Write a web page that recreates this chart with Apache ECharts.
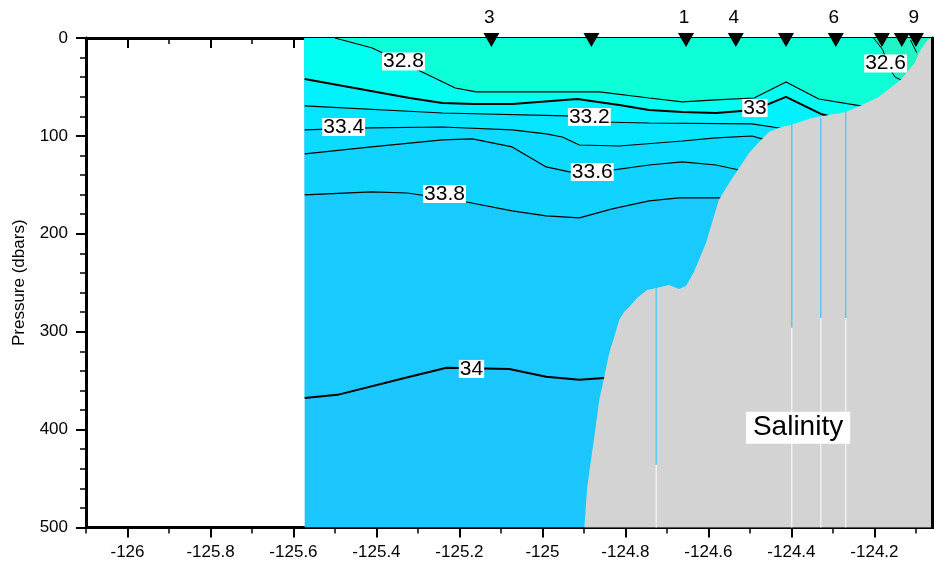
<!DOCTYPE html>
<html>
<head>
<meta charset="utf-8">
<style>
  html, body { margin: 0; padding: 0; background: #fff; }
  #chart-container { width: 934px; height: 565px; }
</style>
</head>
<body>
<div id="chart-container"></div>
<script src="https://cdn.jsdelivr.net/npm/echarts@6/dist/echarts.min.js"></script>
<script>
// axis ranges and ticks
const xMin = -126.1, xMax = -124.06;
const xMajor = [-126, -125.8, -125.6, -125.4, -125.2, -125, -124.8, -124.6, -124.4, -124.2];
const xMinor = [-126.1, -125.9, -125.7, -125.5, -125.3, -125.1, -124.9, -124.7, -124.5, -124.3, -124.1];

// section extent (longitude where data starts / ends)
const waterEdge = [[-125.573, 0], [-124.06, 0]];

// contour lines, [lon, pressure]; the last point of each runs under the shelf
const c34 = [[-125.573, 367.6], [-125.494, 364.5], [-125.320, 346.1], [-125.231, 336.9], [-125.080, 338.0],
  [-124.991, 346.1], [-124.911, 349.2], [-124.851, 347.2], [-124.06, 347.2]];
const c338 = [[-125.573, 160.3], [-125.412, 157.2], [-125.325, 158.3], [-125.183, 167.5], [-125.073, 176.6],
  [-124.991, 181.7], [-124.911, 183.8], [-124.832, 174.6], [-124.743, 166.4], [-124.671, 163.4],
  [-124.579, 163.4], [-124.06, 163.4]];
const c336 = [[-125.573, 118.4], [-125.412, 111.3], [-125.241, 104.1], [-125.169, 103.1], [-125.073, 111.3],
  [-124.991, 131.7], [-124.935, 136.8], [-124.863, 136.8], [-124.743, 129.7], [-124.663, 126.6],
  [-124.582, 129.7], [-124.526, 134.8], [-124.06, 134.8]];
const c334 = [[-125.573, 93.9], [-125.417, 91.9], [-125.241, 90.9], [-125.073, 93.9], [-124.991, 98.0],
  [-124.952, 101.1], [-124.911, 109.3], [-124.815, 110.3], [-124.663, 105.2], [-124.582, 102.1],
  [-124.495, 100.1], [-124.471, 103.1], [-124.06, 103.1]];
const c332 = [[-125.573, 69.4], [-125.241, 76.6], [-124.942, 79.6], [-124.863, 85.8], [-124.743, 86.8],
  [-124.495, 87.8], [-124.430, 91.9], [-124.06, 91.9]];
const c330 = [[-125.573, 41.9], [-125.320, 61.3], [-125.241, 66.4], [-125.164, 67.4], [-125.073, 67.4],
  [-124.916, 62.3], [-124.815, 68.4], [-124.743, 73.5], [-124.663, 75.6], [-124.582, 76.6],
  [-124.490, 73.5], [-124.413, 60.2], [-124.329, 77.6], [-124.310, 79.6], [-124.06, 79.6]];
const c328 = [[-125.50, 0], [-125.41, 10.2], [-125.30, 32.7], [-125.21, 51.1], [-125.16, 55.1],
  [-124.863, 55.1], [-124.743, 61.3], [-124.663, 65.3], [-124.582, 63.3], [-124.490, 61.3],
  [-124.413, 44.9], [-124.334, 62.3], [-124.233, 69.4], [-124.06, 69.4]];
const c326 = [[-124.202, 0], [-124.180, 12], [-124.165, 30], [-124.150, 40], [-124.130, 44], [-124.06, 44]];
const c326b = [[-124.113, 2], [-124.098, 15]];

// bottom profile
const bathy = [[-124.899, 500], [-124.892, 458.4], [-124.882, 427.8], [-124.875, 407.4], [-124.863, 369.6],
  [-124.851, 346.1], [-124.839, 321.6], [-124.827, 305.3], [-124.815, 287.9], [-124.803, 279.8],
  [-124.791, 274.7], [-124.772, 265.5], [-124.748, 257.3], [-124.726, 255.3], [-124.695, 252.2],
  [-124.671, 256.3], [-124.654, 253.2], [-124.635, 238.9], [-124.606, 209.3], [-124.575, 165.4],
  [-124.550, 148.1], [-124.526, 132.7], [-124.502, 117.4], [-124.478, 106.2], [-124.454, 96.0],
  [-124.425, 90.9], [-124.401, 88.8], [-124.351, 81.7], [-124.310, 78.6], [-124.269, 75.6],
  [-124.230, 68.4], [-124.190, 60.3], [-124.137, 43.0], [-124.103, 25.5], [-124.089, 12.3],
  [-124.072, 2], [-124.06, 0]];

// gaps between profile columns
const seamX = [-124.726, -124.399, -124.329, -124.269];
const seamTop = [255.3, 88.8, 81.7, 75.6];
const seamSplit = [436, 296, 286, 286];

// stations
const stationLon = [-125.123, -124.882, -124.654, -124.534, -124.413, -124.293, -124.182, -124.134, -124.100];
const stationName = ['3', '', '1', '4', '', '6', '', '', '9'];

// contour labels
const labelText = ['32.8', '33.4', '33.2', '33.6', '33.8', '34', '33', '32.6'];
const labelLon = [-125.335, -125.479, -124.887, -124.880, -125.236, -125.171, -124.488, -124.173];
const labelP = [24, 90.9, 80.7, 136.8, 159.3, 338, 71.5, 26];

const FONT = 'Liberation Sans';

const contours = [
  { data: c34, fill: '#19caff', width: 2 },
  { data: c338, fill: '#11d3ff', width: 1.2 },
  { data: c336, fill: '#0adbff', width: 1.2 },
  { data: c334, fill: '#05e5ff', width: 1.2 },
  { data: c332, fill: '#00f1ff', width: 1.2 },
  { data: c330, fill: '#00fff0', width: 2 },
  { data: c328, fill: '#0cffd6', width: 1.2 },
  { data: c326, fill: '#1ff5c4', width: 1 },
];

const initChart = () => {
  const dom = document.getElementById('chart-container');
  return echarts.init(dom, null, { renderer: 'canvas' });
};

const buildSeries = () => {
  const series = [];
  series.push({
    type: 'line', data: waterEdge, symbol: 'none', z: 1,
    lineStyle: { width: 0 },
    areaStyle: { color: '#1cc6ff', opacity: 1, origin: 'end' },
  });
  contours.forEach((c) => {
    series.push({
      type: 'line', data: c.data, symbol: 'none', z: 2,
      lineStyle: { color: '#000', width: c.width },
      areaStyle: { color: c.fill, opacity: 1, origin: 'start' },
    });
  });
  series.push({
    type: 'line', data: c326b, symbol: 'none', z: 2,
    lineStyle: { color: '#000', width: 1 },
  });
  series.push({
    type: 'line', data: bathy, symbol: 'none', z: 3,
    lineStyle: { width: 0 },
    areaStyle: { color: '#d3d3d3', opacity: 1, origin: 'end' },
  });
  seamX.forEach((x, i) => {
    series.push({
      type: 'line', data: [[x, seamTop[i]], [x, seamSplit[i]]], symbol: 'none', z: 4,
      lineStyle: { color: '#1cc6ff', width: 1 },
    });
    series.push({
      type: 'line', data: [[x, seamSplit[i]], [x, 500]], symbol: 'none', z: 4,
      lineStyle: { color: '#fff', width: 1 },
    });
  });
  series.push({
    type: 'scatter', symbolSize: 0, z: 6, clip: false,
    itemStyle: { opacity: 1 },
    data: labelText.map((t, i) => ({ name: t, value: [labelLon[i], labelP[i]] })),
    label: {
      show: true, position: 'inside', formatter: (p) => p.name, opacity: 1,
      color: '#000', fontSize: 21, fontFamily: FONT, lineHeight: 17,
      backgroundColor: '#fff', padding: [1, 1, 0, 1],
    },
  });
  series.push({
    type: 'scatter', symbolSize: 0, z: 6, clip: false,
    itemStyle: { opacity: 1 },
    data: [{ name: 'Salinity', value: [-124.384, 398] }],
    label: {
      show: true, position: 'inside', formatter: (p) => p.name, opacity: 1,
      color: '#000', fontSize: 28, fontFamily: FONT, lineHeight: 30,
      backgroundColor: '#fff', padding: [1, 7, 1, 7],
    },
  });
  series.push({
    type: 'scatter', z: 7, clip: false,
    symbol: 'triangle', symbolRotate: 180, symbolSize: [16, 14], symbolOffset: [0, 2],
    itemStyle: { color: '#000', opacity: 1 },
    data: stationLon.map((x, i) => ({ name: stationName[i], value: [x, 0] })),
    label: {
      show: true, position: 'top', distance: 6, offset: [-2, 0], opacity: 1,
      formatter: (p) => p.name, color: '#000', fontSize: 19, fontFamily: FONT,
    },
  });
  return series;
};

// one x axis; grid 0 carries the major ticks, grid 1 (same box) the minor ones.
// the top axis draws its ticks toward the plot unless flipped with inside
const xAxisOf = (gridIndex, position, ticks, len, width, labels) => ({
  type: 'value', gridIndex, position, min: xMin, max: xMax,
  axisLine: { show: gridIndex === 0, onZero: false, lineStyle: { color: '#000', width: 3 } },
  axisTick: {
    show: true, inside: position === 'top', customValues: ticks, length: len,
    lineStyle: { color: '#000', width },
  },
  axisLabel: labels
    ? { show: true, customValues: xMajor, margin: 16, color: '#000', fontSize: 17, fontFamily: FONT }
    : { show: false },
  splitLine: { show: false },
});

const renderChart = (chart) => {
  const box = { left: 86, right: 1.5, top: 38, bottom: 37.5 };
  chart.setOption({
    animation: false,
    backgroundColor: '#fff',
    grid: [box, Object.assign({}, box)],
    xAxis: [
      xAxisOf(0, 'bottom', xMajor, 10, 2, true),
      xAxisOf(0, 'top', xMajor, 10, 2, false),
      xAxisOf(1, 'bottom', xMinor, 6, 1.5, false),
      xAxisOf(1, 'top', xMinor, 6, 1.5, false),
    ],
    yAxis: [
      {
        type: 'value', gridIndex: 0, position: 'left', inverse: true, min: 0, max: 500, interval: 100,
        name: 'Pressure (dbars)', nameLocation: 'middle', nameGap: 58,
        nameTextStyle: { color: '#000', fontSize: 17, fontFamily: FONT },
        axisLine: { show: true, onZero: false, lineStyle: { color: '#000', width: 3 } },
        axisTick: { show: true, length: 10, lineStyle: { color: '#000', width: 2 } },
        minorTick: { show: true, splitNumber: 5, length: 6, lineStyle: { color: '#000', width: 1.5 } },
        axisLabel: { margin: 18, color: '#000', fontSize: 17, fontFamily: FONT },
        splitLine: { show: false },
        minorSplitLine: { show: false },
      },
      {
        type: 'value', gridIndex: 0, position: 'right', inverse: true, min: 0, max: 500, interval: 100,
        z: 8,
        axisLine: { show: true, onZero: false, lineStyle: { color: '#000', width: 3 } },
        axisTick: { show: true, inside: false, length: 6, lineStyle: { color: '#000', width: 1.5 } },
        minorTick: { show: true, splitNumber: 5, length: 6, lineStyle: { color: '#000', width: 1.5 } },
        axisLabel: { show: false },
        splitLine: { show: false },
      },
      {
        type: 'value', gridIndex: 1, inverse: true, min: 0, max: 500, show: false,
        axisLine: { onZero: false },
      },
    ],
    series: buildSeries(),
  });
};

const chart = initChart();
renderChart(chart);
</script>
</body>
</html>
